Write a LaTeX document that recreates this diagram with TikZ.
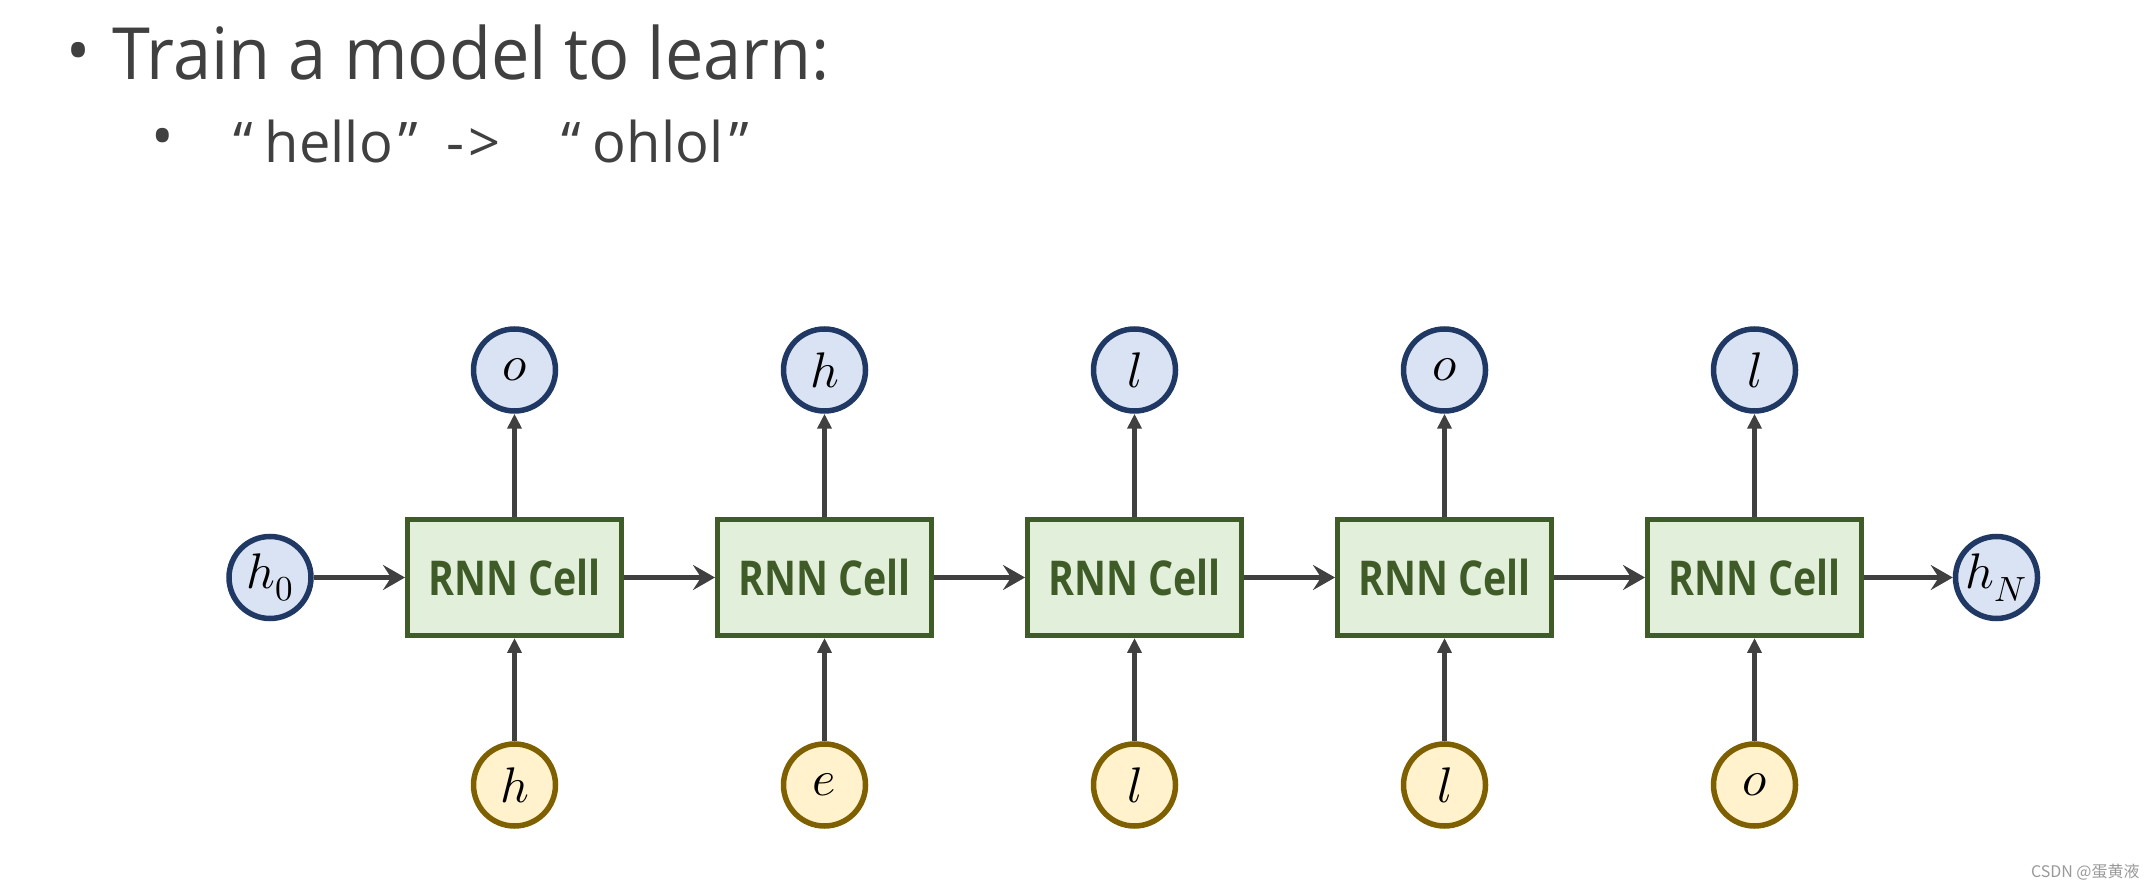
\documentclass[tikz,border=0pt]{standalone}
\usepackage{fontspec}
\usepackage{unicode-math}
\setmainfont{Open Sans}
\setmathfont{Latin Modern Math}
\newfontfamily\cellfont{Open Sans}[FakeStretch=0.82]
\newfontfamily\titlefont{Open Sans}[FakeStretch=0.95]
\newfontfamily\cjkfont{Noto Sans CJK SC}
\usetikzlibrary{arrows.meta}
\definecolor{txtgray}{HTML}{404040}
\definecolor{arrgray}{HTML}{404040}
\definecolor{bluefill}{HTML}{DAE3F3}
\definecolor{bluedraw}{HTML}{203864}
\definecolor{yelfill}{HTML}{FFF2CC}
\definecolor{yeldraw}{HTML}{7F6000}
\definecolor{greenfill}{HTML}{E2EFDA}
\definecolor{greendraw}{HTML}{3F5B27}
\definecolor{wmgray}{HTML}{999999}
\tikzset{
  hcirc/.style={circle, draw=bluedraw, fill=bluefill, line width=2.75pt, minimum size=41pt, inner sep=0pt, font=\fontsize{25}{30}\selectfont},
  xcirc/.style={circle, draw=yeldraw, fill=yelfill, line width=2.75pt, minimum size=41pt, inner sep=0pt, font=\fontsize{25}{30}\selectfont},
  cellbox/.style={rectangle, draw=greendraw, fill=greenfill, line width=2.5pt, minimum width=107pt, minimum height=58pt, inner sep=0pt, text=greendraw, font=\cellfont\bfseries\fontsize{24}{28}\selectfont},
  harrow/.style={draw=arrgray, line width=2.5pt, -{Stealth[length=11pt, width=12.5pt, inset=4pt]}},
  varrow/.style={draw=arrgray, line width=2.5pt, -{Triangle[length=7.5pt, width=7pt]}},
  titletext/.style={text=txtgray, inner sep=0pt, anchor=base west}
}
\begin{document}
\begin{tikzpicture}[x=0.5pt, y=-0.5pt]
\useasboundingbox (0,0) rectangle (2156,886);
% title
\node[text=txtgray, inner sep=0pt, font=\fontsize{32}{36}\selectfont] (b1) at (78.5,58) {•};
\node[titletext, font=\titlefont\fontsize{36}{42}\selectfont] (t1) at (112,80) {Train a model to learn:};
\node[text=txtgray, inner sep=0pt, font=\fontsize{30}{34}\selectfont] (b2) at (163,143) {•};
\node[titletext, font=\fontsize{28}{34}\selectfont] (t2) at (233,163) {“\kern6pt hello\kern3pt”};
\node[titletext, font=\fontsize{28}{34}\selectfont] (t3) at (446,163) {-\kern2pt>};
\node[titletext, font=\fontsize{28}{34}\selectfont] (t4) at (561,163) {“\kern6pt ohlol\kern3pt”};
% hidden states
\node[hcirc] (h0) at (270,577.5) {$h_0$};
\node[hcirc] (hN) at (1996.5,577.5) {$h_N$};
% cells
\foreach \i/\x/\top/\bot in {1/514.5/o/h, 2/824.5/h/e, 3/1134.5/l/l, 4/1444.5/o/l, 5/1754.5/l/o}{
  \node[cellbox] (c\i) at (\x,577.5) {RNN Cell};
  \node[hcirc] (y\i) at (\x,370) {$\top$};
  \node[xcirc] (x\i) at (\x,785) {$\bot$};
  \draw[varrow] (c\i) -- (y\i);
  \draw[varrow] (x\i) -- (c\i);
}
\draw[harrow] (h0) -- (c1);
\draw[harrow] (c1) -- (c2);
\draw[harrow] (c2) -- (c3);
\draw[harrow] (c3) -- (c4);
\draw[harrow] (c4) -- (c5);
\draw[harrow] (c5) -- (hN);
% watermark
\node[anchor=base east, inner sep=0pt, text=wmgray, font=\cjkfont\fontsize{8}{10}\selectfont] (wm) at (2140,877) {CSDN @蛋黄液};
\end{tikzpicture}
\end{document}
